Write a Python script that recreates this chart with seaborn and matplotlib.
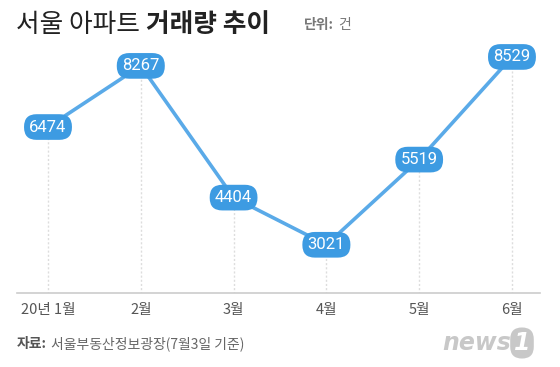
import numpy as np
import pandas as pd
import matplotlib
matplotlib.use('Agg')
import matplotlib.pyplot as plt
import seaborn as sns

months = ['20년 1월', '2월', '3월', '4월', '5월', '6월']
deals = [6474, 8267, 4404, 3021, 5519, 8529]

title_light = '서울 아파트 '
title_bold = '거래량 추이'
unit_label = '단위:'
unit_value = '건'
source_label = '자료:'
source_text = '서울부동산정보광장(7월3일 기준)'

df = pd.DataFrame({'idx': range(len(months)), 'month': months, 'deals': deals})

sns.set_style('white')
plt.rcParams['font.family'] = ['Noto Sans CJK KR', 'DejaVu Sans']

line_col = '#5aaae8'
box_col = '#3d9be2'
grey = '#555555'

fig = plt.figure(figsize=(5.6, 3.67), dpi=100)
ax = fig.add_axes([17/560, 74/367, 523/560, 253/367])

# dotted guides from each point down to the axis
for i, v in zip(df['idx'], df['deals']):
    ax.plot([i, i], [0, v], color='#dddddd', lw=1, ls=(0, (1.5, 1.5)), zorder=1)

sns.lineplot(data=df, x='idx', y='deals', ax=ax, color=line_col, lw=2.6, zorder=2)

for i, v in zip(df['idx'], df['deals']):
    ax.text(i, v, f'{v}', ha='center', va='center', color='white', fontsize=12,
            family=['Roboto', 'DejaVu Sans'], zorder=4,
            bbox=dict(boxstyle='round,pad=0.32,rounding_size=0.75', fc=box_col, ec='none'))

ax.set_xlim(-0.334, 5.302)
ax.set_ylim(1607, 9026)
ax.set_xticks(df['idx'])
ax.set_xticklabels(months, color=grey, fontsize=10.5)
ax.set_yticks([])
ax.set_xlabel('')
ax.set_ylabel('')
ax.tick_params(axis='x', direction='in', length=6, color='#cccccc', width=1, pad=7)
for s in ['top', 'right', 'left']:
    ax.spines[s].set_visible(False)
ax.spines['bottom'].set_color('#cccccc')
ax.spines['bottom'].set_linewidth(1.2)

# title
t1 = fig.text(16/560, 1 - 25/367, title_light, fontsize=18.5, color='#222222', va='center')
fig.canvas.draw()
bb = t1.get_window_extent()
fig.text(bb.x1 / 560, 1 - 25/367, title_bold, fontsize=18.5, color='#222222',
         fontweight='bold', va='center')
u1 = fig.text(304/560, 1 - 25/367, unit_label, fontsize=10, color='#777777',
              fontweight='bold', va='center')
fig.canvas.draw()
bb = u1.get_window_extent()
fig.text(bb.x1 / 560 + 4/560, 1 - 25/367, unit_value, fontsize=10, color='#777777', va='center')

# source
s1 = fig.text(17/560, 1 - 344/367, source_label, fontsize=10, color='#555555',
              fontweight='bold', va='center')
fig.canvas.draw()
bb = s1.get_window_extent()
fig.text(bb.x1 / 560 + 4/560, 1 - 344/367, source_text, fontsize=10, color='#666666', va='center')

# logo
fig.text(442/560, 1 - 343/367, 'news', fontsize=17, color='#c8c8c8', style='italic',
         fontweight='bold', va='center', family=['DejaVu Sans'])
fig.text(522/560, 1 - 343/367, '1', fontsize=17, color='white', style='italic',
         fontweight='bold', va='center', ha='center', family=['DejaVu Sans'],
         bbox=dict(boxstyle='round,pad=0.15,rounding_size=0.5', fc='#c8c8c8', ec='none'))

fig.savefig('out.png', dpi=100)
